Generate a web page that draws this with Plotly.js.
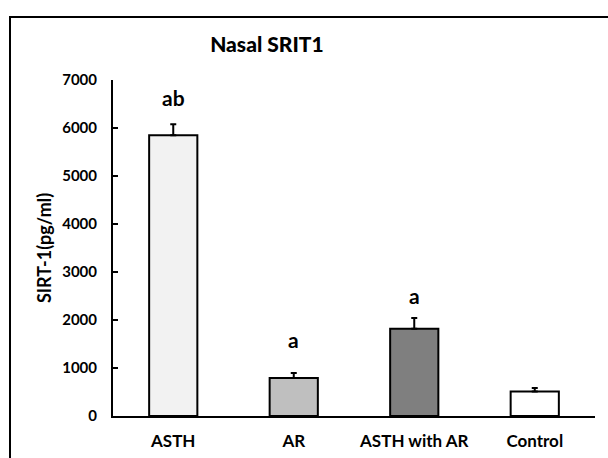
<!DOCTYPE html>
<html>
<head>
<meta charset="utf-8">
<script src="https://cdn.plot.ly/plotly-3.0.1.min.js"></script>
<style>
  html, body { margin: 0; padding: 0; background: #fff; overflow: hidden; }
  #wrap { position: relative; width: 608px; height: 458px; overflow: hidden; }
  #frame { position: absolute; left: 9px; top: 16px; width: 620px; height: 460px; border-left: 2px solid #000; border-top: 2px solid #000; box-sizing: border-box; pointer-events: none; }
  #chart { position: absolute; left: 0; top: 0; width: 608px; height: 458px; }
</style>
</head>
<body>
<div id="wrap">
  <div id="chart"></div>
  <div id="frame"></div>
</div>
<script>
const categories = ["ASTH", "AR", "ASTH with AR", "Control"];
const values = [5850, 790, 1820, 510];
const errors = [230, 105, 220, 75];
const letters = ["ab", "a", "a", ""];
const barColors = ["#f2f2f2", "#bfbfbf", "#7f7f7f", "#ffffff"];
const yTicks = [0, 1000, 2000, 3000, 4000, 5000, 6000, 7000];

const FONT = "Lato, 'Open Sans', sans-serif";
const letterOffset = [560, 700, 470, 0];

const trace = {
  type: "bar",
  x: categories,
  y: values,
  width: 0.4,
  marker: { color: barColors, line: { color: "#000", width: 2 } },
  error_y: { type: "data", symmetric: false, array: errors, arrayminus: errors.map(() => 0), color: "#000", thickness: 2, width: 3 },
  hoverinfo: "none"
};

const annotations = categories.map((c, i) => ({
  x: c, y: values[i] + errors[i] + letterOffset[i], xref: "x", yref: "y",
  text: "<b>" + letters[i] + "</b>", showarrow: false, yanchor: "middle",
  font: { family: FONT, size: 21, color: "#000" }
})).filter((a, i) => letters[i] !== "");

const layout = {
  width: 608, height: 458,
  margin: { l: 113, r: 13, t: 80, b: 42 },
  paper_bgcolor: "#fff", plot_bgcolor: "#fff",
  showlegend: false,
  title: { text: "Nasal SRIT1", x: 0.439, xanchor: "center", y: 0.903, yanchor: "middle", font: { family: FONT, size: 21, color: "#000", weight: 900 } },
  xaxis: {
    type: "category", range: [-0.5, 3.5], showline: true, linecolor: "#000", linewidth: 2,
    ticks: "", showgrid: false, zeroline: false,
    tickfont: { family: FONT, size: 17, color: "#000" }, ticklabelstandoff: 9
  },
  yaxis: {
    range: [0, 7000], tickvals: yTicks, ticktext: yTicks.map(v => "<b>" + v + "</b>"),
    showline: true, linecolor: "#000", linewidth: 2, ticks: "inside", ticklen: 5, tickwidth: 2, tickcolor: "#000",
    showgrid: false, zeroline: false,
    tickfont: { family: FONT, size: 15, color: "#000" }, ticklabelstandoff: 11,
    title: { text: "<b>SIRT-1(pg/ml)</b>", font: { family: FONT, size: 18, color: "#000" }, standoff: 6 }
  },
  annotations: annotations
};
layout.xaxis.ticktext = categories.map(c => "<b>" + c + "</b>");
layout.xaxis.tickvals = categories;

Plotly.newPlot("chart", [trace], layout, { displayModeBar: false, staticPlot: true });
</script>
</body>
</html>
